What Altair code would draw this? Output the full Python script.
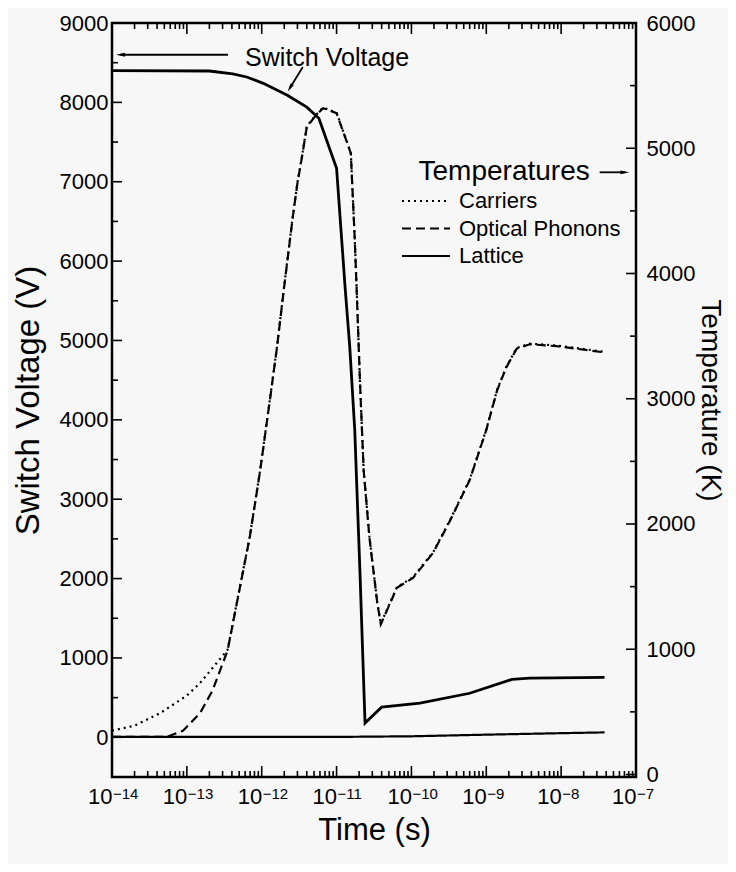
import altair as alt
import pandas as pd

# ---------------- values ----------------
volt_time = [1e-14, 2e-13, 4.1e-13, 6.3e-13, 1.05e-12, 2.2e-12, 4e-12, 5.8e-12, 1e-11,
             1.3e-11, 1.5e-11, 1.75e-11, 1.85e-11, 2.05e-11, 2.4e-11, 4e-11, 1.3e-10,
             6e-10, 2.2e-9, 3.8e-9, 3.8e-8]
volt_value = [8400, 8395, 8360, 8320, 8240, 8090, 7940, 7800, 7170,
              5670, 4920, 3870, 3240, 2100, 180, 380, 430,
              555, 730, 745, 755]

lattice_time = [1e-14, 1e-11, 1e-10, 1e-9, 1e-8, 3.8e-8]
lattice_temp = [300, 300, 305, 318, 330, 336]

phonon_time = [1e-14, 5.4e-14, 8.9e-14, 1.5e-13, 2.2e-13, 3.5e-13, 5.1e-13, 6.9e-13,
               9.5e-13, 1.3e-12, 1.6e-12, 2.0e-12, 2.6e-12, 3.0e-12, 3.45e-12, 4.0e-12,
               5.1e-12, 6.6e-12, 1.0e-11, 1.55e-11, 1.75e-11, 1.85e-11, 2.05e-11, 2.3e-11,
               2.75e-11, 3.5e-11, 3.9e-11, 6.4e-11, 1.05e-10, 1.95e-10, 3.3e-10, 6.0e-10,
               1.0e-9, 1.4e-9, 1.85e-9, 2.55e-9, 3.8e-9, 8.7e-9, 3.8e-8]
phonon_temp = [300, 300, 350, 490, 670, 990, 1490, 1890,
               2420, 3010, 3410, 3900, 4450, 4720, 4930, 5170,
               5250, 5320, 5280, 4960, 4270, 3890, 3150, 2430,
               1890, 1370, 1200, 1490, 1570, 1770, 2030, 2350,
               2750, 3070, 3250, 3400, 3435, 3420, 3370]

carrier_time = [1e-14, 2e-14, 4.4e-14, 1e-13, 1.5e-13, 2.5e-13, 3.5e-13, 5.1e-13,
                6.9e-13, 9.5e-13, 1.3e-12, 1.6e-12, 2.0e-12, 2.6e-12, 3.0e-12, 3.45e-12,
                4.0e-12, 5.1e-12, 6.6e-12, 1.0e-11, 1.55e-11, 1.75e-11, 1.85e-11, 2.05e-11,
                2.3e-11, 2.75e-11, 3.5e-11, 3.9e-11, 6.4e-11, 1.05e-10, 1.95e-10, 3.3e-10,
                6.0e-10, 1.0e-9, 1.4e-9, 1.85e-9, 2.55e-9, 3.8e-9, 8.7e-9, 3.8e-8]
carrier_temp = [350, 390, 490, 630, 730, 890, 995, 1495,
                1895, 2425, 3015, 3415, 3905, 4455, 4725, 4935,
                5175, 5255, 5325, 5285, 4965, 4270, 3895, 3150,
                2430, 1895, 1370, 1205, 1495, 1575, 1775, 2035,
                2355, 2755, 3075, 3255, 3405, 3440, 3425, 3375]

series_names = ["Carriers", "Optical Phonons", "Lattice"]

# axis ticks / labels
x_major = [1e-14, 1e-13, 1e-12, 1e-11, 1e-10, 1e-9, 1e-8, 1e-7]
x_exponents = ["−14", "−13", "−12", "−11", "−10", "−9", "−8", "−7"]
x_minor = [m * d for d in x_major[:-1] for m in range(2, 10)]
volt_major = [0, 1000, 2000, 3000, 4000, 5000, 6000, 7000, 8000, 9000]
volt_minor = [500, 1500, 2500, 3500, 4500, 5500, 6500, 7500, 8500]
temp_major = [0, 1000, 2000, 3000, 4000, 5000, 6000]
temp_minor = [500, 1500, 2500, 3500, 4500, 5500]

# annotations (data coordinates)
volt_label = ["Switch Voltage"]
volt_label_t = [6.0e-13]
volt_label_v = [8560]
volt_arrow_t = [3.54e-13, 3.54e-12]
volt_arrow_t2 = [1.3e-14, 2.38e-12]
volt_arrow_v = [8600, 8446]
volt_arrow_v2 = [8600, 8181]
volt_arrow_angle = [270, 211]

temp_label = ["Temperatures"]
temp_label_t = [2.41e-8]
temp_label_T = [4808]
temp_arrow_t = [3.27e-8]
temp_arrow_t2 = [7.1e-8]
temp_arrow_T = [4808]
temp_arrow_angle = [90]

# ---------------- styles ----------------
W, H = 524, 754
FONT = "Liberation Sans"
INK = "black"
dash_range = [[2, 4], [9, 5], [1, 0]]
width_range = [2.2, 2.2, 2.8]
ARROW = "M0,-1L0.42,1L-0.42,1Z"

xs = alt.Scale(type="log", domain=[1e-14, 1e-7], nice=False)
vs = alt.Scale(domain=[-500, 9000], nice=False, zero=False)
ts = alt.Scale(domain=[-20, 6000], nice=False, zero=False)
dash_scale = alt.Scale(domain=series_names, range=dash_range)
width_scale = alt.Scale(domain=series_names, range=width_range)

x_axis = alt.Axis(values=x_major, labelExpr="'10'", labelAlign="right", labelBaseline="top",
                  labelPadding=9, labelFontSize=22, labelFlush=False, labelOverlap=False,
                  title="Time (s)", titleFontSize=31, titlePadding=8)
v_axis = alt.Axis(orient="left", values=volt_major, format="d", labelFontSize=22,
                  labelPadding=4, labelFlush=False, labelOverlap=False,
                  title="Switch Voltage (V)", titleFontSize=33, titlePadding=14)
t_axis = alt.Axis(orient="right", values=temp_major, format="d", labelFontSize=22,
                  labelPadding=10, labelFlush=False, labelOverlap=False,
                  title="Temperature (K)", titleFontSize=28, titlePadding=1)


def X(field="t"):
    return alt.X(f"{field}:Q", scale=xs, axis=x_axis)


def YV(field="v"):
    return alt.Y(f"{field}:Q", scale=vs, axis=v_axis)


def YT(field="T"):
    return alt.Y(f"{field}:Q", scale=ts, axis=t_axis)


def xticks(values, length, top):
    y0, y1 = (0, length) if top else (H, H - length)
    return alt.Chart(pd.DataFrame({"t": values})).mark_rule(color=INK, strokeWidth=1.6).encode(
        x=X(), y=alt.value(y0), y2=alt.value(y1))


def vticks(values, length):
    return alt.Chart(pd.DataFrame({"v": values})).mark_rule(color=INK, strokeWidth=1.6).encode(
        y=YV(), x=alt.value(0), x2=alt.value(length))


def tticks(values, length):
    return alt.Chart(pd.DataFrame({"T": values})).mark_rule(color=INK, strokeWidth=1.6).encode(
        y=YT(), x=alt.value(W - length), x2=alt.value(W))


# ---------------- voltage group ----------------
volt_line = alt.Chart(pd.DataFrame({"t": volt_time, "v": volt_value})).mark_line(
    color=INK, strokeWidth=2.8).encode(x=X(), y=YV())

sup = alt.Chart(pd.DataFrame({"t": x_major, "e": x_exponents})).mark_text(
    align="left", baseline="middle", fontSize=15, font=FONT, color=INK, dx=1).encode(
    x=X(), y=alt.value(H + 17), text="e:N")

volt_text = alt.Chart(pd.DataFrame({"t": volt_label_t, "v": volt_label_v, "s": volt_label})).mark_text(
    align="left", baseline="middle", fontSize=25, font=FONT, color=INK).encode(
    x=X(), y=YV(), text="s:N")

va_df = pd.DataFrame({"t": volt_arrow_t, "t2": volt_arrow_t2, "v": volt_arrow_v,
                      "v2": volt_arrow_v2, "a": volt_arrow_angle})
volt_arrow = alt.Chart(va_df).mark_rule(color=INK, strokeWidth=1.8).encode(
    x=X(), x2="t2:Q", y=YV(), y2="v2:Q")
volt_head = alt.Chart(va_df).mark_point(shape=ARROW, filled=True, size=80, color=INK,
                                        opacity=1, strokeWidth=0).encode(
    x=X("t2"), y=YV("v2"), angle=alt.Angle("a:Q", scale=None))

volt_group = alt.layer(
    volt_line,
    vticks(volt_major, 10), vticks(volt_minor, 6),
    xticks(x_major, 11, False), xticks(x_minor, 6, False),
    xticks(x_major, 11, True), xticks(x_minor, 6, True),
    sup, volt_text, volt_arrow, volt_head,
)

# ---------------- temperature group ----------------
temp_df = pd.concat([
    pd.DataFrame({"t": carrier_time, "T": carrier_temp, "series": series_names[0]}),
    pd.DataFrame({"t": phonon_time, "T": phonon_temp, "series": series_names[1]}),
    pd.DataFrame({"t": lattice_time, "T": lattice_temp, "series": series_names[2]}),
])
temp_lines = alt.Chart(temp_df).mark_line(color=INK).encode(
    x=X(), y=YT(),
    strokeDash=alt.StrokeDash("series:N", scale=dash_scale, legend=None),
    strokeWidth=alt.StrokeWidth("series:N", scale=width_scale, legend=None),
)

temp_text = alt.Chart(pd.DataFrame({"t": temp_label_t, "T": temp_label_T, "s": temp_label})).mark_text(
    align="right", baseline="middle", fontSize=28, font=FONT, color=INK).encode(
    x=X(), y=YT(), text="s:N")
ta_df = pd.DataFrame({"t": temp_arrow_t, "t2": temp_arrow_t2, "T": temp_arrow_T, "a": temp_arrow_angle})
temp_arrow = alt.Chart(ta_df).mark_rule(color=INK, strokeWidth=1.8).encode(
    x=X(), x2="t2:Q", y=YT())
temp_head = alt.Chart(ta_df).mark_point(shape=ARROW, filled=True, size=80, color=INK,
                                        opacity=1, strokeWidth=0).encode(
    x=X("t2"), y=YT(), angle=alt.Angle("a:Q", scale=None))

temp_group = alt.layer(
    temp_lines,
    tticks(temp_major, 10), tticks(temp_minor, 6),
    temp_text, temp_arrow, temp_head,
)

# ---------------- legend group ----------------
leg_df = pd.DataFrame({"series": series_names, "row": [0, 1, 2]})
leg_y = alt.Y("row:Q", scale=alt.Scale(domain=[0, 2], range=[178, 233]), axis=None)
leg_lines = alt.Chart(leg_df).mark_rule(color=INK).encode(
    x=alt.value(290), x2=alt.value(338), y=leg_y,
    strokeDash=alt.StrokeDash("series:N", scale=dash_scale, legend=None),
    strokeWidth=alt.StrokeWidth("series:N", scale=width_scale, legend=None),
)
leg_text = alt.Chart(leg_df).mark_text(align="left", baseline="middle", fontSize=22,
                                       font=FONT, color=INK).encode(
    x=alt.value(347), y=leg_y, text="series:N")
legend_group = alt.layer(leg_lines, leg_text)

chart = alt.layer(volt_group, temp_group, legend_group).resolve_scale(
    y="independent"
).properties(
    width=W, height=H, background="#f7f7f7",
    padding={"left": 104, "top": 15, "right": 92, "bottom": 87},
    autosize=alt.AutoSizeParams(type="none"),
).configure_view(
    stroke=INK, strokeWidth=2.5
).configure_axis(
    domain=False, ticks=False, grid=False, labelFont=FONT, titleFont=FONT,
    labelColor=INK, titleColor=INK, titleFontWeight="normal",
)

chart.save("out.html", embed_options={"renderer": "svg", "actions": False})
